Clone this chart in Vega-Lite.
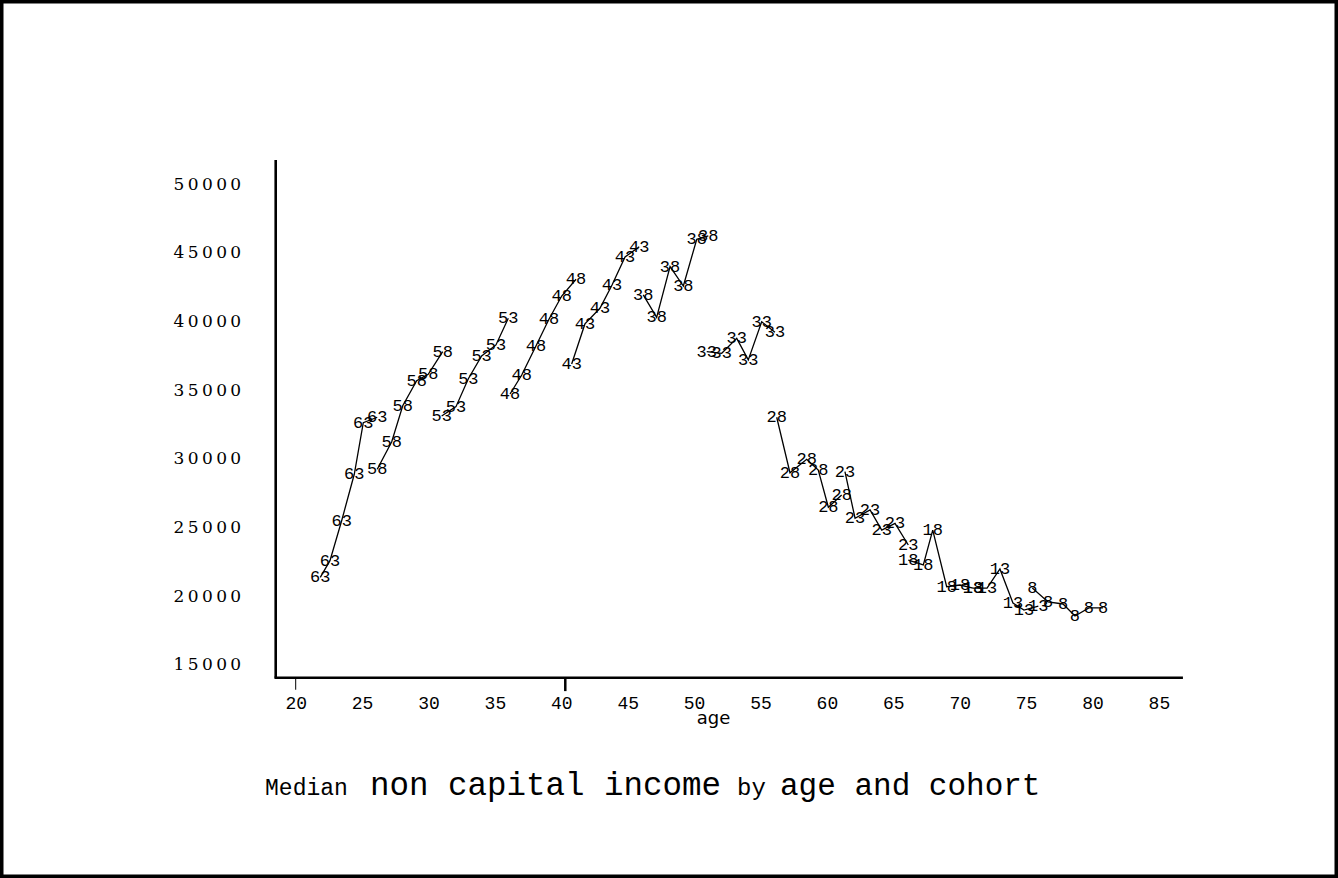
{
  "$schema": "https://vega.github.io/schema/vega-lite/v6.json",
  "width": 1338,
  "height": 878,
  "autosize": {"type": "none"},
  "padding": 0,
  "background": "white",
  "config": {"view": {"stroke": "black", "strokeWidth": 7}, "axis": {"grid": false}},
  "data": {"values": [
    {"cohort": "63", "age": 21.85, "income": 21380}, {"cohort": "63", "age": 22.58, "income": 22590}, {"cohort": "63", "age": 23.46, "income": 25500}, {"cohort": "63", "age": 24.41, "income": 28880}, {"cohort": "63", "age": 25.09, "income": 32630}, {"cohort": "63", "age": 26.14, "income": 33030},
    {"cohort": "58", "age": 26.14, "income": 29240}, {"cohort": "58", "age": 27.23, "income": 31250}, {"cohort": "58", "age": 28.06, "income": 33870}, {"cohort": "58", "age": 29.11, "income": 35690}, {"cohort": "58", "age": 29.98, "income": 36150}, {"cohort": "58", "age": 31.07, "income": 37800},
    {"cohort": "53", "age": 30.99, "income": 33120}, {"cohort": "53", "age": 32.07, "income": 33800}, {"cohort": "53", "age": 33.0, "income": 35830}, {"cohort": "53", "age": 34.0, "income": 37490}, {"cohort": "53", "age": 35.08, "income": 38290}, {"cohort": "53", "age": 36.01, "income": 40230},
    {"cohort": "48", "age": 36.14, "income": 34720}, {"cohort": "48", "age": 37.02, "income": 36100}, {"cohort": "48", "age": 38.09, "income": 38210}, {"cohort": "48", "age": 39.07, "income": 40160}, {"cohort": "48", "age": 40.03, "income": 41850}, {"cohort": "48", "age": 41.11, "income": 43070},
    {"cohort": "43", "age": 40.78, "income": 36900}, {"cohort": "43", "age": 41.78, "income": 39820}, {"cohort": "43", "age": 42.91, "income": 40960}, {"cohort": "43", "age": 43.82, "income": 42650}, {"cohort": "43", "age": 44.8, "income": 44690}, {"cohort": "43", "age": 45.87, "income": 45440},
    {"cohort": "38", "age": 46.17, "income": 41930}, {"cohort": "38", "age": 47.18, "income": 40300}, {"cohort": "38", "age": 48.19, "income": 43990}, {"cohort": "38", "age": 49.19, "income": 42580}, {"cohort": "38", "age": 50.2, "income": 45980}, {"cohort": "38", "age": 51.07, "income": 46220},
    {"cohort": "33", "age": 50.95, "income": 37800}, {"cohort": "33", "age": 52.08, "income": 37680}, {"cohort": "33", "age": 53.21, "income": 38770}, {"cohort": "33", "age": 54.08, "income": 37200}, {"cohort": "33", "age": 55.09, "income": 39980}, {"cohort": "33", "age": 56.09, "income": 39210},
    {"cohort": "28", "age": 56.22, "income": 33030}, {"cohort": "28", "age": 57.22, "income": 28990}, {"cohort": "28", "age": 58.48, "income": 29970}, {"cohort": "28", "age": 59.35, "income": 29190}, {"cohort": "28", "age": 60.11, "income": 26480}, {"cohort": "28", "age": 61.11, "income": 27370},
    {"cohort": "23", "age": 61.36, "income": 29070}, {"cohort": "23", "age": 62.12, "income": 25680}, {"cohort": "23", "age": 63.25, "income": 26280}, {"cohort": "23", "age": 64.13, "income": 24820}, {"cohort": "23", "age": 65.13, "income": 25310}, {"cohort": "23", "age": 66.13, "income": 23730},
    {"cohort": "18", "age": 66.13, "income": 22640}, {"cohort": "18", "age": 67.26, "income": 22280}, {"cohort": "18", "age": 67.97, "income": 24820}, {"cohort": "18", "age": 69.02, "income": 20700}, {"cohort": "18", "age": 70.02, "income": 20820}, {"cohort": "18", "age": 71.0, "income": 20600},
    {"cohort": "13", "age": 71.0, "income": 20600}, {"cohort": "13", "age": 72.06, "income": 20600}, {"cohort": "13", "age": 73.03, "income": 21990}, {"cohort": "13", "age": 74.01, "income": 19510}, {"cohort": "13", "age": 74.84, "income": 19000}, {"cohort": "13", "age": 75.92, "income": 19290},
    {"cohort": "8", "age": 75.47, "income": 20600}, {"cohort": "8", "age": 76.65, "income": 19590}, {"cohort": "8", "age": 77.78, "income": 19440}, {"cohort": "8", "age": 78.68, "income": 18570}, {"cohort": "8", "age": 79.73, "income": 19150}, {"cohort": "8", "age": 80.79, "income": 19150}
  ]},
  "layer": [
    {
      "mark": {"type": "line", "color": "black", "strokeWidth": 1.3},
      "encoding": {
        "x": {"field": "age", "type": "quantitative",
              "scale": {"domain": [-2.267, 98.487], "nice": false, "zero": false},
              "axis": {"orient": "bottom", "offset": -200.3, "values": [20, 25, 30, 35, 40, 45, 50, 55, 60, 65, 70, 75, 80, 85],
                       "ticks": false, "tickSize": 0, "domain": false, "grid": false,
                       "labelFont": "Liberation Mono", "labelFontSize": 18, "labelColor": "black", "labelPadding": 17,
                       "labelBaseline": "top", "labelFlush": false, "labelOverlap": false,
                       "title": "age", "titleFont": "DejaVu Sans", "titleFontSize": 18, "titleFontWeight": "normal",
                       "titleColor": "black", "titleX": 713, "titleY": 41, "titleBaseline": "middle", "titleAlign": "center"}},
        "y": {"field": "income", "type": "quantitative",
              "scale": {"domain": [-500, 63392], "nice": false, "zero": false},
              "axis": {"orient": "left", "offset": -275.7, "values": [15000, 20000, 25000, 30000, 35000, 40000, 45000, 50000],
                       "format": "d", "ticks": false, "tickSize": 0, "domain": false, "grid": false,
                       "labelFont": "DejaVu Serif", "labelFontSize": 17, "labelColor": "black", "labelPadding": 35,
                       "labelExpr": "join(split(datum.label, ''), '\u2009')", "labelOverlap": false, "labelFlush": false,
                       "title": ""}},
        "detail": {"field": "cohort", "type": "nominal"},
        "order": {"field": "age", "type": "quantitative"}
      }
    },
    {
      "mark": {"type": "text", "font": "Liberation Mono", "fontSize": 17, "color": "black", "align": "center", "baseline": "middle"},
      "encoding": {
        "x": {"field": "age", "type": "quantitative", "scale": {"domain": [-2.267, 98.487], "nice": false, "zero": false}},
        "y": {"field": "income", "type": "quantitative", "scale": {"domain": [-500, 63392], "nice": false, "zero": false}},
        "text": {"field": "cohort", "type": "nominal"}
      }
    },
    {
      "data": {"values": [{}]},
      "mark": {"type": "rule", "color": "black", "strokeWidth": 2.6},
      "encoding": {
        "x": {"datum": 18.494, "type": "quantitative", "scale": {"domain": [-2.267, 98.487], "nice": false, "zero": false}},
        "y": {"datum": 14076, "type": "quantitative", "scale": {"domain": [-500, 63392], "nice": false, "zero": false}},
        "y2": {"datum": 51749}
      }
    },
    {
      "data": {"values": [{}]},
      "mark": {"type": "rule", "color": "black", "strokeWidth": 2.6},
      "encoding": {
        "x": {"datum": 18.4, "type": "quantitative", "scale": {"domain": [-2.267, 98.487], "nice": false, "zero": false}},
        "x2": {"datum": 86.81},
        "y": {"datum": 14076, "type": "quantitative", "scale": {"domain": [-500, 63392], "nice": false, "zero": false}}
      }
    },
    {
      "data": {"values": [{}]},
      "mark": {"type": "rule", "color": "black", "strokeWidth": 1},
      "encoding": {
        "x": {"datum": 20, "type": "quantitative", "scale": {"domain": [-2.267, 98.487], "nice": false, "zero": false}},
        "y": {"datum": 14076, "type": "quantitative", "scale": {"domain": [-500, 63392], "nice": false, "zero": false}},
        "y2": {"datum": 13200}
      }
    },
    {
      "data": {"values": [{}]},
      "mark": {"type": "rule", "color": "black", "strokeWidth": 2.5},
      "encoding": {
        "x": {"datum": 40.3, "type": "quantitative", "scale": {"domain": [-2.267, 98.487], "nice": false, "zero": false}},
        "y": {"datum": 14076, "type": "quantitative", "scale": {"domain": [-500, 63392], "nice": false, "zero": false}},
        "y2": {"datum": 13100}
      }
    },
    {
      "data": {"values": [{}]},
      "mark": {"type": "text", "text": "Median", "font": "Liberation Mono", "fontSize": 23, "color": "black", "align": "left", "baseline": "alphabetic"},
      "encoding": {
        "x": {"datum": 17.69, "type": "quantitative", "scale": {"domain": [-2.267, 98.487], "nice": false, "zero": false}},
        "y": {"datum": 5540, "type": "quantitative", "scale": {"domain": [-500, 63392], "nice": false, "zero": false}}
      }
    },
    {
      "data": {"values": [{}]},
      "mark": {"type": "text", "text": "non capital income", "font": "Liberation Mono", "fontSize": 32.5, "color": "black", "align": "left", "baseline": "alphabetic"},
      "encoding": {
        "x": {"datum": 25.59, "type": "quantitative", "scale": {"domain": [-2.267, 98.487], "nice": false, "zero": false}},
        "y": {"datum": 5540, "type": "quantitative", "scale": {"domain": [-500, 63392], "nice": false, "zero": false}}
      }
    },
    {
      "data": {"values": [{}]},
      "mark": {"type": "text", "text": "by", "font": "Liberation Mono", "fontSize": 24, "color": "black", "align": "left", "baseline": "alphabetic"},
      "encoding": {
        "x": {"datum": 53.23, "type": "quantitative", "scale": {"domain": [-2.267, 98.487], "nice": false, "zero": false}},
        "y": {"datum": 5540, "type": "quantitative", "scale": {"domain": [-500, 63392], "nice": false, "zero": false}}
      }
    },
    {
      "data": {"values": [{}]},
      "mark": {"type": "text", "text": "age and cohort", "font": "Liberation Mono", "fontSize": 31, "color": "black", "align": "left", "baseline": "alphabetic"},
      "encoding": {
        "x": {"datum": 56.47, "type": "quantitative", "scale": {"domain": [-2.267, 98.487], "nice": false, "zero": false}},
        "y": {"datum": 5540, "type": "quantitative", "scale": {"domain": [-500, 63392], "nice": false, "zero": false}}
      }
    }
  ]
}
